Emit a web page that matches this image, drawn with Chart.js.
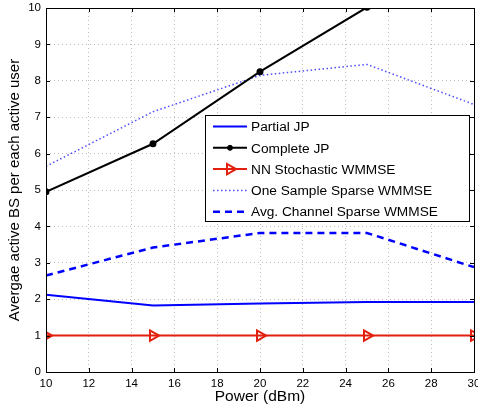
<!DOCTYPE html>
<html lang="en">
<head>
<meta charset="UTF-8">
<title>Avergae active BS per each active user</title>
<script src="https://cdn.jsdelivr.net/npm/chart.js"></script>
<style>
  html, body { margin:0; padding:0; background:#fff; overflow:hidden; }
  /* canvas is 4px wider than the window so the "30" label is cut like in the figure */
  #wrap { width:482px; height:409px; }
</style>
</head>
<body>
<div id="wrap"><canvas id="chart" width="482" height="409"></canvas></div>
<script>
// data
const power = [10, 15, 20, 25, 30];
const partialJP = [2.12, 1.83, 1.88, 1.92, 1.92];
const completeJP = [4.95, 6.27, 8.25, 10.02, 11.8];
const nnStochastic = [1, 1, 1, 1, 1];
const oneSample = [5.65, 7.15, 8.15, 8.45, 7.35];
const avgChannel = [2.65, 3.42, 3.82, 3.82, 2.88];
const xTicks = [10, 12, 14, 16, 18, 20, 22, 24, 26, 28, 30];
const yTicks = [0, 1, 2, 3, 4, 5, 6, 7, 8, 9, 10];

const FONT = "'Liberation Sans', Arial, sans-serif";
const pts = arr => arr.map((v, i) => ({ x: power[i], y: v }));

const datasets = [
  { label: 'Partial JP', data: pts(partialJP), borderColor: '#0000ff', borderWidth: 2, pointRadius: 0 },
  { label: 'Complete JP', data: pts(completeJP), borderColor: '#000000', backgroundColor: '#000000', borderWidth: 2,
    pointRadius: 2.5, pointStyle: 'circle' },
  { label: 'NN Stochastic WMMSE', data: pts(nnStochastic), borderColor: '#e3200e', backgroundColor: 'rgba(0,0,0,0)',
    borderWidth: 2, pointStyle: 'triangle', pointRotation: 90, pointRadius: 6, pointBorderWidth: 2 },
  { label: 'One Sample Sparse WMMSE', data: pts(oneSample), borderColor: '#4d4dff', borderWidth: 1.5,
    borderDash: [1.5, 2.5], pointRadius: 0 },
  { label: 'Avg. Channel Sparse WMMSE', data: pts(avgChannel), borderColor: '#0000ff', borderWidth: 2.5,
    borderDash: [7, 5], pointRadius: 0 }
];

// box, inward ticks and the legend, MATLAB style
const frame = {
  id: 'frame',
  afterDraw(chart) {
    const { ctx, chartArea: a, scales } = chart;
    ctx.save();
    ctx.strokeStyle = '#000';
    ctx.lineWidth = 1;
    ctx.beginPath();
    xTicks.forEach(t => {
      const x = Math.round(scales.x.getPixelForValue(t)) + 0.5;
      ctx.moveTo(x, a.bottom); ctx.lineTo(x, a.bottom - 4);
      ctx.moveTo(x, a.top); ctx.lineTo(x, a.top + 4);
    });
    yTicks.forEach(t => {
      const y = Math.round(scales.y.getPixelForValue(t)) + 0.5;
      ctx.moveTo(a.left, y); ctx.lineTo(a.left + 4, y);
      ctx.moveTo(a.right, y); ctx.lineTo(a.right - 4, y);
    });
    ctx.stroke();
    ctx.strokeRect(Math.round(a.left) + 0.5, Math.round(a.top) + 0.5,
      Math.round(a.right - a.left), Math.round(a.bottom - a.top));

    // legend
    const lx = 205.5, ly = 115.5, lw = 264, lh = 106, row = 21.3;
    ctx.fillStyle = '#fff';
    ctx.fillRect(lx, ly, lw, lh);
    ctx.strokeStyle = '#000';
    ctx.strokeRect(lx, ly, lw, lh);
    ctx.font = '13.7px ' + FONT;
    ctx.textBaseline = 'middle';
    chart.data.datasets.forEach((d, i) => {
      const y = ly + 11 + i * row;
      ctx.strokeStyle = d.borderColor;
      ctx.lineWidth = d.borderWidth;
      ctx.setLineDash(d.borderDash || []);
      ctx.beginPath();
      ctx.moveTo(213, y); ctx.lineTo(247, y);
      ctx.stroke();
      ctx.setLineDash([]);
      if (d.pointRadius) {
        ctx.lineWidth = d.pointBorderWidth || 1;
        ctx.fillStyle = d.backgroundColor;
        Chart.helpers.drawPoint(ctx, {
          pointStyle: d.pointStyle, rotation: d.pointRotation || 0,
          radius: d.pointRadius, borderWidth: d.pointBorderWidth || 1
        }, 230, y);
      }
      ctx.fillStyle = '#000';
      ctx.fillText(d.label, 251, y + 1);
    });
    ctx.restore();
  }
};

new Chart(document.getElementById('chart'), {
  type: 'line',
  data: { datasets },
  plugins: [frame],
  options: {
    responsive: false,
    animation: false,
    layout: { padding: { top: 8, right: 0, left: 0, bottom: 0 } },
    plugins: { legend: { display: false }, tooltip: { enabled: false } },
    scales: {
      x: {
        type: 'linear', min: 10, max: 30,
        afterBuildTicks: s => { s.ticks = xTicks.map(v => ({ value: v })); },
        afterFit: s => { s.height = 37; s.paddingLeft = 0; s.paddingRight = 0; },
        grid: { color: '#bdbdbd', borderDash: [1, 3], drawTicks: false },
        border: { display: false, dash: [1, 3] },
        ticks: { color: '#000', font: { family: FONT, size: 11.5 }, padding: 5, maxRotation: 0 },
        title: { display: true, text: 'Power (dBm)', color: '#000', font: { family: FONT, size: 15.5 }, padding: { top: 0, bottom: 3 } }
      },
      y: {
        type: 'linear', min: 0, max: 10,
        afterBuildTicks: s => { s.ticks = yTicks.map(v => ({ value: v })); },
        afterFit: s => { s.width = 46; s.paddingTop = 0; s.paddingBottom = 0; },
        grid: { color: '#bdbdbd', borderDash: [1, 3], drawTicks: false },
        border: { display: false, dash: [1, 3] },
        ticks: { color: '#000', font: { family: FONT, size: 11.5 }, padding: 5 },
        title: { display: true, text: 'Avergae active BS per each active user', color: '#000', font: { family: FONT, size: 15 }, padding: { top: 6, bottom: 0 } }
      }
    }
  }
});
</script>
</body>
</html>
